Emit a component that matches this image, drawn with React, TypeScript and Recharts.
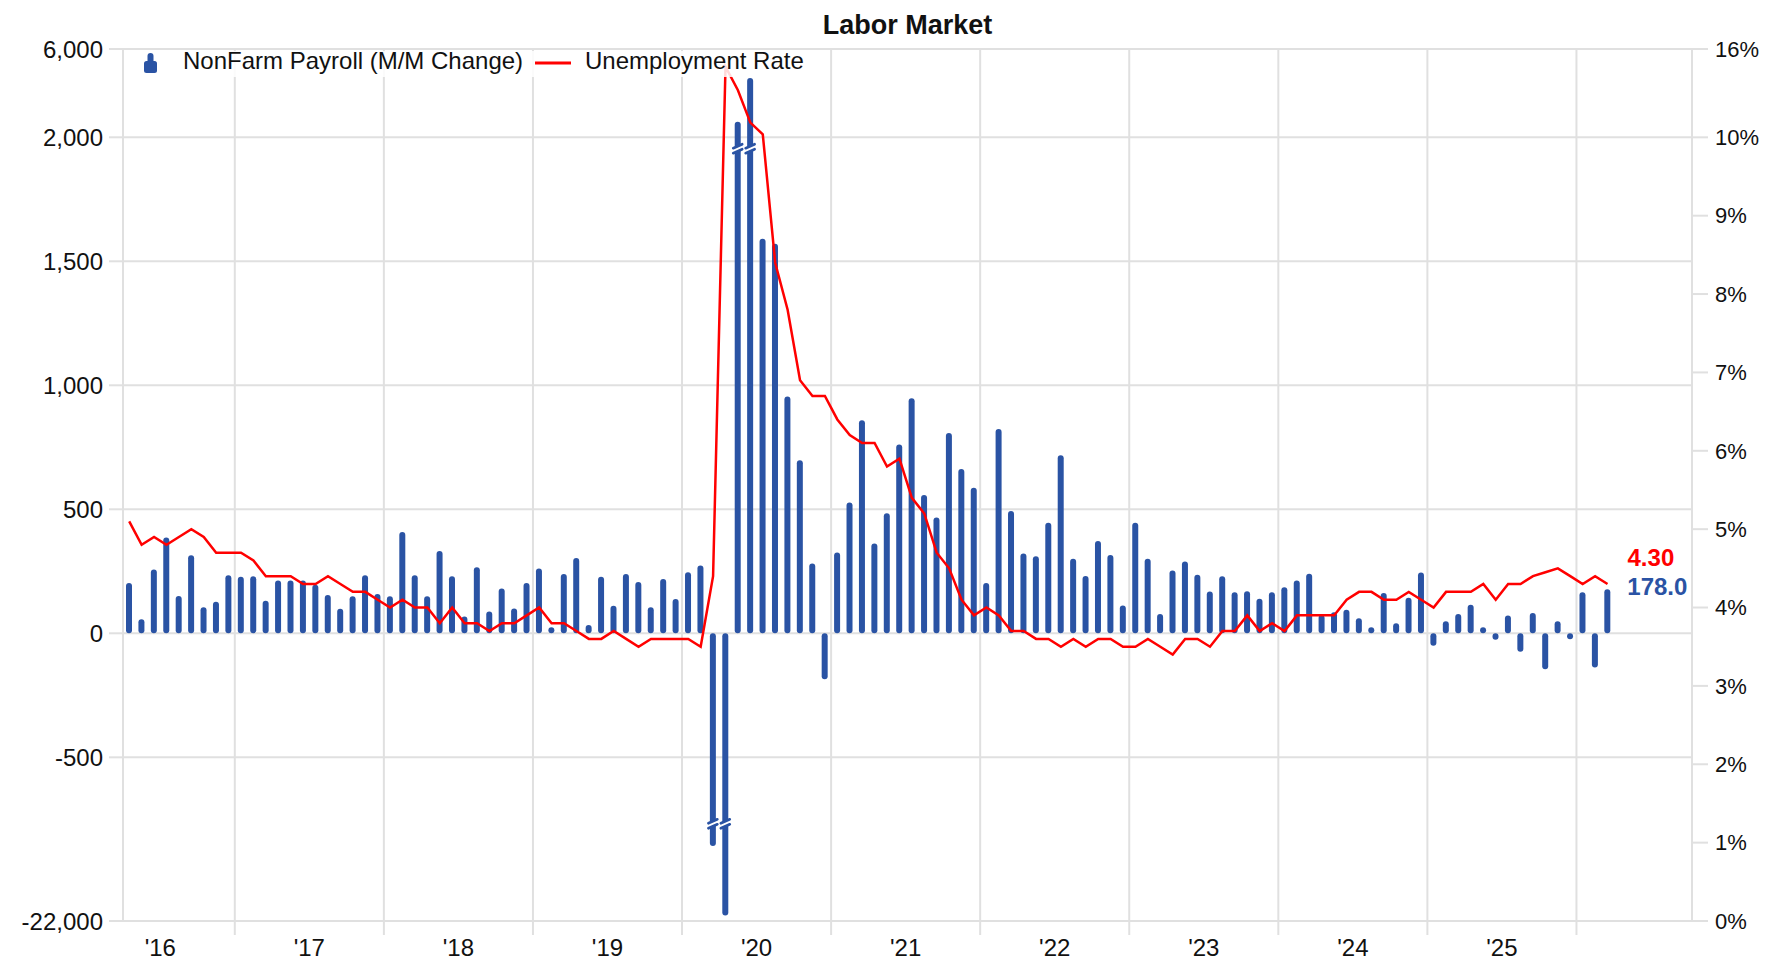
import React from "react";
import { ComposedChart, Bar, Line, XAxis, YAxis, CartesianGrid } from "recharts";

// ---- data (Apr 2016 .. Mar 2026), thousands / percent ----
const payroll2016 = [203, 57, 257, 386, 150, 315, 105, 127, 234];
const payroll2017 = [228, 230, 131, 213, 213, 213, 196, 154, 99, 149, 234, 159];
const payroll2018 = [149, 408, 234, 149, 332, 230, 68, 266, 88, 181, 100, 203];
const payroll2019 = [261, 11, 239, 304, 34, 228, 111, 239, 207, 105, 219, 138];
const payroll2020 = [246, 273, -1373, -20500, 2709, 4682, 1591, 1571, 955, 698, 281, -185];
const payroll2021 = [326, 527, 859, 362, 484, 761, 948, 558, 467, 808, 663, 587];
const payroll2022 = [203, 824, 493, 322, 311, 446, 718, 301, 231, 372, 316, 112];
const payroll2023 = [446, 301, 78, 253, 290, 236, 169, 230, 166, 170, 139, 166];
const payroll2024 = [186, 213, 240, 74, 85, 95, 61, 18, 163, 41, 143, 245];
const payroll2025 = [-50, 49, 78, 115, 18, -26, 72, -74, 82, -145, 49, -20];
const payroll2026 = [166, -138, 178];

const unemp2016 = [5.1, 4.8, 4.9, 4.8, 4.9, 5.0, 4.9, 4.7, 4.7];
const unemp2017 = [4.7, 4.6, 4.4, 4.4, 4.4, 4.3, 4.3, 4.4, 4.3, 4.2, 4.2, 4.1];
const unemp2018 = [4.0, 4.1, 4.0, 4.0, 3.8, 4.0, 3.8, 3.8, 3.7, 3.8, 3.8, 3.9];
const unemp2019 = [4.0, 3.8, 3.8, 3.7, 3.6, 3.6, 3.7, 3.6, 3.5, 3.6, 3.6, 3.6];
const unemp2020 = [3.6, 3.5, 4.4, 14.8, 13.2, 11.0, 10.2, 8.4, 7.8, 6.9, 6.7, 6.7];
const unemp2021 = [6.4, 6.2, 6.1, 6.1, 5.8, 5.9, 5.4, 5.2, 4.7, 4.5, 4.1, 3.9];
const unemp2022 = [4.0, 3.9, 3.7, 3.7, 3.6, 3.6, 3.5, 3.6, 3.5, 3.6, 3.6, 3.5];
const unemp2023 = [3.5, 3.6, 3.5, 3.4, 3.6, 3.6, 3.5, 3.7, 3.7, 3.9, 3.7, 3.8];
const unemp2024 = [3.7, 3.9, 3.9, 3.9, 3.9, 4.1, 4.2, 4.2, 4.1, 4.1, 4.2, 4.1];
const unemp2025 = [4.0, 4.2, 4.2, 4.2, 4.3, 4.1, 4.3, 4.3, 4.4, 4.45, 4.5, 4.4];
const unemp2026 = [4.3, 4.4, 4.3];

const leftTickValues = [-22000, -500, 0, 500, 1000, 1500, 2000, 6000];
const rightTickValues = [0, 1, 2, 3, 4, 5, 6, 7, 8, 9, 10, 16];
const yearLabels = ["'16", "'17", "'18", "'19", "'20", "'21", "'22", "'23", "'24", "'25"];

const payroll = [
  ...payroll2016, ...payroll2017, ...payroll2018, ...payroll2019, ...payroll2020, ...payroll2021,
  ...payroll2022, ...payroll2023, ...payroll2024, ...payroll2025, ...payroll2026,
];
const unemp = [
  ...unemp2016, ...unemp2017, ...unemp2018, ...unemp2019, ...unemp2020, ...unemp2021,
  ...unemp2022, ...unemp2023, ...unemp2024, ...unemp2025, ...unemp2026,
];

// ---- layout ----
const W = 1766;
const H = 964;
const PLOT_L = 123;
const PLOT_R = 1692;
const PLOT_T = 49;
const PLOT_B = 921;
const MONTHS = 126.3; // Apr 2016 .. end of Sep 2026 on the axis
const PX_PER_MONTH = (PLOT_R - PLOT_L) / MONTHS;
const BLUE = "#2a53a4";
const RED = "#ff0000";
const GRID = "#e0e0e0";
const FONT = '"Liberation Sans", Arial, Helvetica, sans-serif';

// broken left axis: linear between -850 and 2000, squeezed outside
const leftT = (v: number) => {
  if (v > 2000) return 2000 + ((v - 2000) / 4000) * 356;
  if (v < -850) return -850 - ((-850 - v) / 21150) * 310;
  return v;
};
// broken right axis: linear 0..10%, squeezed 10..16%
const rightT = (p: number) => (p <= 10 ? p : 10 + ((p - 10) / 6) * 1.127);

const rows = payroll.map((v, i) => ({
  x: i + 0.5,
  pay: v,
  payT: leftT(v),
  un: unemp[i],
  unT: rightT(unemp[i]),
}));
const LAST = rows.length - 1;

const janTicks = yearLabels.map((_, i) => 9 + i * 12);
const leftTicks = leftTickValues.map(leftT);
const rightTicks = rightTickValues.map(rightT);

const nearest = (arr: number[], v: number) => {
  let best = 0;
  arr.forEach((a, i) => {
    if (Math.abs(a - v) < Math.abs(arr[best] - v)) best = i;
  });
  return best;
};

function YearTick(props: any) {
  const { x, y, payload } = props;
  const i = janTicks.indexOf(payload.value);
  return (
    <text x={x - 6 * PX_PER_MONTH} y={y} dy="0.71em" textAnchor="middle" fontSize={24} fill="#111">
      {yearLabels[i]}
    </text>
  );
}

function PayBar(props: any) {
  const { x, y, width, height, payload } = props;
  if (x == null || y == null || height == null || !payload) return null;
  const w = 6;
  const cx = x + width / 2;
  let top = Math.min(y, y + height);
  let bot = Math.max(y, y + height);
  const h = bot - top;
  const pxPerT = Math.abs(payload.payT) > 0 ? h / Math.abs(payload.payT) : 0;
  if (bot - top < w) {
    if (payload.pay >= 0) top = bot - w;
    else bot = top + w;
  }
  const mark = (my: number) => (
    <g key="mark">
      <line x1={cx - 5} y1={my + 4} x2={cx + 5} y2={my - 1} stroke="#fff" strokeWidth={4} />
      <line x1={cx - 4.5} y1={my + 1} x2={cx + 4.5} y2={my - 3} stroke={BLUE} strokeWidth={2.6} strokeLinecap="round" />
      <line x1={cx - 4.5} y1={my + 6} x2={cx + 4.5} y2={my + 2} stroke={BLUE} strokeWidth={2.6} strokeLinecap="round" />
    </g>
  );
  let m = null;
  if (payload.pay > 2000) m = mark(bot - leftT(1960) * pxPerT);
  if (payload.pay < -850) m = mark(top + 762 * pxPerT);
  return (
    <g>
      <rect x={cx - w / 2} y={top} width={w} height={bot - top} rx={w / 2} fill={BLUE} />
      {m}
    </g>
  );
}

function BarEndLabel(props: any) {
  const { x, y, width, index } = props;
  if (index !== LAST) return null;
  return (
    <text x={x + width / 2 + 20} y={y - 3} dy="0.355em" fontSize={24} fontWeight="bold" fill={BLUE}>
      {payroll[LAST].toFixed(1)}
    </text>
  );
}

function LineEndLabel(props: any) {
  const { x, y, index } = props;
  if (index !== LAST) return null;
  return (
    <text x={x + 20} y={y - 27} dy="0.355em" fontSize={24} fontWeight="bold" fill={RED}>
      {unemp[LAST].toFixed(2)}
    </text>
  );
}

export default function App() {
  return (
    <div style={{ position: "absolute", left: 0, top: 0, width: W, height: H, background: "#fff", fontFamily: FONT }}>
      <ComposedChart width={W} height={H} data={rows} margin={{ top: PLOT_T, right: 0, bottom: 0, left: 0 }}>
        <CartesianGrid xAxisId="x" yAxisId="left" stroke={GRID} strokeWidth={2} />
        <XAxis
          xAxisId="x"
          dataKey="x"
          type="number"
          domain={[0, MONTHS]}
          ticks={janTicks}
          interval={0}
          height={H - PLOT_B}
          tickSize={14}
          tickMargin={4}
          tickLine={{ stroke: GRID, strokeWidth: 2 }}
          axisLine={false}
          tick={(p: any) => <YearTick {...p} />}
        />
        <YAxis
          yAxisId="left"
          type="number"
          width={PLOT_L}
          domain={[leftT(-22000), leftT(6000)]}
          ticks={leftTicks}
          interval={0}
          tickSize={14}
          tickMargin={6}
          tickLine={{ stroke: GRID, strokeWidth: 2 }}
          axisLine={{ stroke: GRID, strokeWidth: 2 }}
          tick={{ fill: "#111", fontSize: 24 }}
          tickFormatter={(v: number) => leftTickValues[nearest(leftTicks, v)].toLocaleString("en-US")}
        />
        <YAxis
          yAxisId="right"
          orientation="right"
          type="number"
          width={W - PLOT_R}
          domain={[0, rightT(16)]}
          ticks={rightTicks}
          interval={0}
          tickSize={16}
          tickMargin={7}
          tickLine={{ stroke: GRID, strokeWidth: 2 }}
          axisLine={{ stroke: GRID, strokeWidth: 2 }}
          tick={{ fill: "#111", fontSize: 22 }}
          tickFormatter={(v: number) => rightTickValues[nearest(rightTicks, v)] + "%"}
        />
        <Bar
          xAxisId="x"
          yAxisId="left"
          dataKey="payT"
          barSize={6}
          shape={(p: any) => <PayBar {...p} />}
          label={(p: any) => <BarEndLabel {...p} />}
          isAnimationActive={false}
        />
        <Line
          xAxisId="x"
          yAxisId="right"
          dataKey="unT"
          type="linear"
          stroke={RED}
          strokeWidth={2.5}
          dot={false}
          label={(p: any) => <LineEndLabel {...p} />}
          isAnimationActive={false}
        />
      </ComposedChart>
      <svg width={W} height={H} style={{ position: "absolute", left: 0, top: 0, pointerEvents: "none" }}>
        <text x={(PLOT_L + PLOT_R) / 2} y={34} textAnchor="middle" fontSize={27} fontWeight="bold" fill="#111">
          Labor Market
        </text>
        <rect x={126} y={51} width={686} height={26} fill="#fff" fillOpacity={0.85} />
        <rect x={147.5} y={53} width={6} height={14} rx={3} fill={BLUE} />
        <rect x={144} y={61} width={13} height={12} rx={2.5} fill={BLUE} />
        <text x={183} y={69} fontSize={24} fill="#111">
          NonFarm Payroll (M/M Change)
        </text>
        <line x1={535} y1={63} x2={571} y2={63} stroke={RED} strokeWidth={3} />
        <text x={585} y={69} fontSize={24} fill="#111">
          Unemployment Rate
        </text>
      </svg>
    </div>
  );
}
